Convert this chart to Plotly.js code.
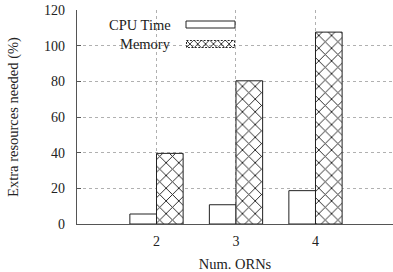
<!DOCTYPE html>
<html>
<head>
<meta charset="utf-8">
<script src="https://cdn.plot.ly/plotly-3.0.1.min.js"></script>
<style>html,body{margin:0;padding:0;background:#fff;}#chart{width:393px;height:272px;}</style>
</head>
<body>
<div id="chart"></div>
<script>
const categories = [2, 3, 4];
const tickLabels = ["2", "3", "4"];
const cpuTime = [5.6, 10.8, 18.7];
const memory = [39.6, 80.3, 107.6];
const seriesNames = ["CPU Time", "Memory"];

const W = 393, H = 272, L = 77, T = 10, B = 48;
const plotW = W - L, plotH = H - T - B;
const px = v => (v - L) / plotW;
const py = v => (H - B - v) / plotH;

const hatchSvg = 'data:image/svg+xml;utf8,' + encodeURIComponent(
  '<svg xmlns="http://www.w3.org/2000/svg" width="50" height="8" viewBox="0 0 50 8">' +
  '<defs><pattern id="p" width="8" height="8" patternUnits="userSpaceOnUse">' +
  '<path d="M0,0L8,8M8,0L0,8" stroke="#222" stroke-width="0.9"/></pattern></defs>' +
  '<rect x="0.5" y="0.5" width="49" height="7" fill="url(#p)" stroke="#222" stroke-width="1" stroke-dasharray="2,1.5"/></svg>');

const traces = [
  {
    type: 'bar', x: categories, y: cpuTime, name: seriesNames[0],
    marker: {color: '#ffffff', line: {color: '#222', width: 1}},
    showlegend: false
  },
  {
    type: 'bar', x: categories, y: memory, name: seriesNames[1],
    marker: {color: '#ffffff', line: {color: '#222', width: 1},
             pattern: {shape: 'x', size: 9, solidity: 0.2, fgcolor: '#222', bgcolor: '#ffffff'}},
    showlegend: false
  }
];

const font = {family: 'Liberation Serif', size: 14, color: '#222'};
const titleFont = {family: 'Liberation Serif', size: 14.5, color: '#222'};

const layout = {
  width: W, height: H,
  margin: {l: L, r: 0, t: T, b: B, pad: 0},
  paper_bgcolor: '#fff', plot_bgcolor: '#fff',
  font: font,
  barmode: 'group', bargap: 0.33, bargroupgap: 0,
  xaxis: {
    range: [1, 4.975], tickvals: categories, ticktext: tickLabels,
    showgrid: true, gridcolor: '#b0b0b0', griddash: 'dot', gridwidth: 1,
    showline: true, linecolor: '#555', linewidth: 1.2,
    ticks: '', zeroline: false, ticklabelstandoff: 4,
    tickfont: font,
    title: {text: 'Num. ORNs', font: titleFont, standoff: 22}
  },
  yaxis: {
    range: [0, 120], dtick: 20, tick0: 0,
    showgrid: true, gridcolor: '#b0b0b0', griddash: 'dot', gridwidth: 1,
    showline: true, linecolor: '#555', linewidth: 1.2,
    ticks: 'inside', ticklen: 4, tickcolor: '#555', zeroline: false,
    ticklabelstandoff: 8,
    tickfont: font,
    title: {text: 'Extra resources needed (%)', font: titleFont, standoff: 22}
  },
  shapes: [
    {type: 'rect', xref: 'paper', yref: 'paper',
     x0: px(186), x1: px(235), y0: py(28), y1: py(21),
     line: {color: '#222', width: 1}, fillcolor: '#fff'}
  ],
  images: [
    {source: hatchSvg, xref: 'paper', yref: 'paper',
     x: px(186), y: py(40), sizex: px(235) - px(186), sizey: py(40) - py(48),
     sizing: 'stretch', xanchor: 'left', yanchor: 'top', layer: 'above'}
  ],
  annotations: [
    {text: seriesNames[0], xref: 'paper', yref: 'paper', x: px(173), y: py(24.5),
     xanchor: 'right', yanchor: 'middle', showarrow: false, font: titleFont},
    {text: seriesNames[1], xref: 'paper', yref: 'paper', x: px(173), y: py(43.5),
     xanchor: 'right', yanchor: 'middle', showarrow: false, font: titleFont}
  ]
};

Plotly.newPlot('chart', traces, layout, {displayModeBar: false, staticPlot: true});
</script>
</body>
</html>
